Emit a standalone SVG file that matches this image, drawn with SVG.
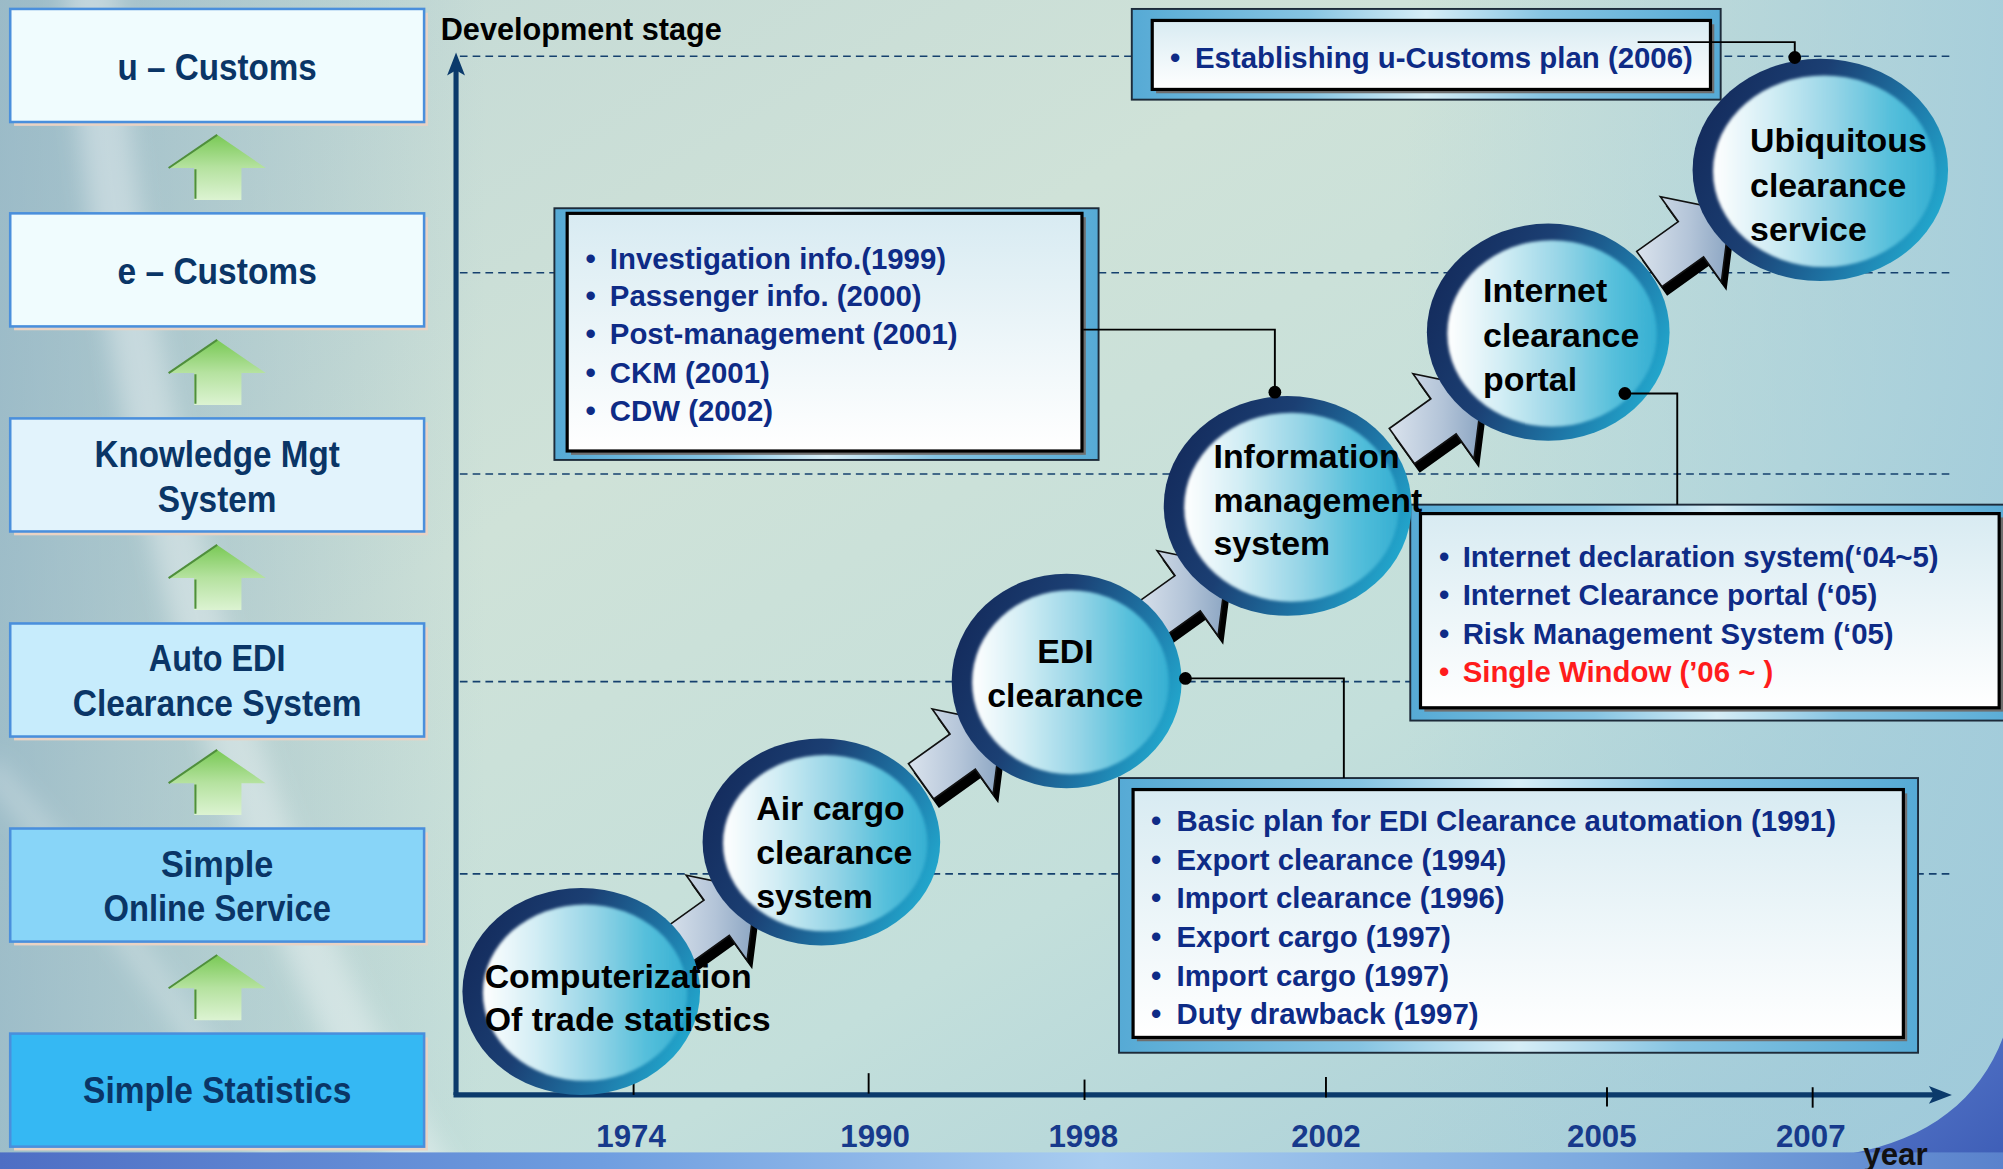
<svg xmlns="http://www.w3.org/2000/svg" width="2003" height="1169" viewBox="0 0 2003 1169">
<defs>
<style>
.f{font-family:"Liberation Sans",Arial,sans-serif;font-weight:bold}
.lt{font-size:28.5px;fill:#0a3566;text-anchor:middle}
.ct{font-size:26.5px;fill:#000}
.it{font-size:23px;fill:#0e2b86}
.bu{font-size:23px;fill:#0e2b86;text-anchor:middle}
.yr{font-size:24.5px;fill:#173a8c;text-anchor:middle}
.lbox{stroke:#4a8fdc;stroke-width:2}
.lsh{fill:#e9d3c4}
.dash{stroke:#15406e;stroke-width:1.3;stroke-dasharray:6 4;fill:none}
.axis{stroke:#0b3a6b;stroke-width:4;fill:none}
.tick{stroke:#000;stroke-width:1.5}
.frame{fill:url(#frame);stroke:#1d2b3a;stroke-width:1.5}
.ishadow{fill:#6e6e6e}
.inner{fill:url(#inner);stroke:#000;stroke-width:2.5}
.ring{fill:url(#ring)}
.core{fill:url(#core);filter:url(#edge)}
.garr{fill:url(#green)}
.gedge{stroke:#4f8f3c;stroke-width:1.6;fill:none}
.conn{stroke:#000;stroke-width:1.5;fill:none}
.dot{fill:#000}
.abody{fill:url(#arrowFill);stroke:#111;stroke-width:1.3;stroke-linejoin:miter}
.ablk{fill:#000}
</style>
<linearGradient id="bg" x1="0" y1="0" x2="1" y2="1">
<stop offset="0" stop-color="#c2d8d5"/>
<stop offset="0.35" stop-color="#cfe2d8"/>
<stop offset="0.65" stop-color="#c3dfdb"/>
<stop offset="1" stop-color="#a0cad8"/>
</linearGradient>
<linearGradient id="leftShade" x1="0" y1="0" x2="1" y2="0">
<stop offset="0" stop-color="#8aaec2" stop-opacity="0.7"/>
<stop offset="1" stop-color="#8aaec2" stop-opacity="0"/>
</linearGradient>
<linearGradient id="rightShade" x1="0" y1="0" x2="1" y2="0">
<stop offset="0" stop-color="#9fcadb" stop-opacity="0"/>
<stop offset="1" stop-color="#9fcadb" stop-opacity="0.8"/>
</linearGradient>
<linearGradient id="strip" x1="0" y1="0" x2="1" y2="0">
<stop offset="0" stop-color="#4e6ec4"/>
<stop offset="0.3" stop-color="#6f9ee0"/>
<stop offset="0.55" stop-color="#a9cdf0"/>
<stop offset="0.8" stop-color="#7ca9df"/>
<stop offset="1" stop-color="#5a82cc"/>
</linearGradient>
<linearGradient id="corner" x1="0" y1="0" x2="1" y2="1">
<stop offset="0" stop-color="#5a7bcc"/>
<stop offset="1" stop-color="#3d5db6"/>
</linearGradient>
<filter id="soft" x="-30%" y="-30%" width="160%" height="160%"><feGaussianBlur stdDeviation="9"/></filter>
<filter id="edge" x="-5%" y="-5%" width="110%" height="110%"><feGaussianBlur stdDeviation="1.3"/></filter>
<linearGradient id="green" x1="0" y1="0" x2="0" y2="1">
<stop offset="0" stop-color="#79c955"/>
<stop offset="0.5" stop-color="#b5e29f"/>
<stop offset="1" stop-color="#dcf3d2"/>
</linearGradient>
<linearGradient id="frame" x1="0" y1="0" x2="1" y2="0">
<stop offset="0" stop-color="#56aad5"/>
<stop offset="0.3" stop-color="#86c4e2"/>
<stop offset="0.5" stop-color="#d6edf6"/>
<stop offset="0.7" stop-color="#86c4e2"/>
<stop offset="1" stop-color="#56aad5"/>
</linearGradient>
<linearGradient id="inner" x1="0" y1="0" x2="0" y2="1">
<stop offset="0" stop-color="#d8ebf2"/>
<stop offset="1" stop-color="#ffffff"/>
</linearGradient>
<linearGradient id="ring" x1="0" y1="0.2" x2="1" y2="0.6">
<stop offset="0" stop-color="#13295a"/>
<stop offset="0.4" stop-color="#1b3f73"/>
<stop offset="0.75" stop-color="#1e78a8"/>
<stop offset="1" stop-color="#22a6cc"/>
</linearGradient>
<linearGradient id="core" x1="0" y1="0" x2="1" y2="0">
<stop offset="0" stop-color="#ffffff"/>
<stop offset="0.25" stop-color="#d4eef5"/>
<stop offset="0.55" stop-color="#94d4e6"/>
<stop offset="0.8" stop-color="#55bfdb"/>
<stop offset="1" stop-color="#35afd2"/>
</linearGradient>
<linearGradient id="arrowFill" gradientUnits="userSpaceOnUse" x1="-40" y1="-30" x2="38" y2="30">
<stop offset="0" stop-color="#e2e9f1"/>
<stop offset="0.5" stop-color="#b3c4d8"/>
<stop offset="1" stop-color="#7594b6"/>
</linearGradient>
<path id="blk" d="M-40,-17 H0 V-41 L38,0 L0,41 V17 H-40 Z"/>
<path id="garrow" d="M0,0 L38,26 L19,26 L19,51 L-18,51 L-18,26 L-38,26 Z"/>
</defs>

<g transform="scale(1.27742 1.2776)">

<g id="background">
<rect x="0" y="0" width="1568" height="915" fill="url(#bg)"/>
<rect x="0" y="0" width="380" height="915" fill="url(#leftShade)"/>
<rect x="1100" y="0" width="468" height="915" fill="url(#rightShade)"/>
<path d="M70,-20 C95,300 170,650 340,930" stroke="#ffffff" stroke-opacity="0.35" stroke-width="40" fill="none" filter="url(#soft)"/>
<path d="M-10,600 C80,700 170,830 230,930" stroke="#ffffff" stroke-opacity="0.25" stroke-width="18" fill="none" filter="url(#soft)"/>
<path d="M1568,812 C1550,860 1510,892 1448,903 L1448,915 L1568,915 Z" fill="url(#corner)"/>
<rect x="0" y="902" width="1568" height="13" fill="url(#strip)"/>
</g>

<g id="grid">
<line class="dash" x1="360" y1="44" x2="1528" y2="44"/>
<line class="dash" x1="360" y1="213.5" x2="1528" y2="213.5"/>
<line class="dash" x1="360" y1="371" x2="1528" y2="371"/>
<line class="dash" x1="360" y1="533.5" x2="1528" y2="533.5"/>
<line class="dash" x1="360" y1="684" x2="1528" y2="684"/>
</g>

<g id="axes">
<line class="axis" x1="357" y1="857" x2="357" y2="52"/>
<polygon points="357,41 364,59 357,55 350,59" fill="#0b3a6b"/>
<line class="axis" x1="355" y1="857" x2="1516" y2="857"/>
<polygon points="1528,857 1510,850 1514,857 1510,864" fill="#0b3a6b"/>
<line class="tick" x1="496" y1="846" x2="496" y2="857"/>
<line class="tick" x1="680" y1="840" x2="680" y2="856"/>
<line class="tick" x1="849" y1="845" x2="849" y2="861"/>
<line class="tick" x1="1038" y1="843" x2="1038" y2="859"/>
<line class="tick" x1="1258" y1="851" x2="1258" y2="866"/>
<line class="tick" x1="1419" y1="851" x2="1419" y2="867"/>
<text class="f" x="345" y="31" font-size="24" fill="#000">Development stage</text>
<text class="f yr" x="494" y="898">1974</text>
<text class="f yr" x="685" y="898">1990</text>
<text class="f yr" x="848" y="898">1998</text>
<text class="f yr" x="1038" y="898">2002</text>
<text class="f yr" x="1254" y="898">2005</text>
<text class="f yr" x="1417.5" y="898">2007</text>
<text class="f" x="1458.6" y="912" font-size="24.5" fill="#111">year</text>
</g>

<g id="box-u-customs">
<rect class="lsh" x="11" y="10" width="324" height="88.5"/>
<rect class="lbox" x="8" y="7" width="324" height="88.5" fill="#f0fcfe"/>
<text class="f lt" x="170" y="62.3" textLength="156" lengthAdjust="spacingAndGlyphs">u – Customs</text>
</g>
<g id="box-e-customs">
<rect class="lsh" x="11" y="170" width="324" height="88.5"/>
<rect class="lbox" x="8" y="167" width="324" height="88.5" fill="#f0fcfe"/>
<text class="f lt" x="170" y="222.3" textLength="156" lengthAdjust="spacingAndGlyphs">e – Customs</text>
</g>
<g id="box-knowledge">
<rect class="lsh" x="11" y="330.5" width="324" height="88.5"/>
<rect class="lbox" x="8" y="327.5" width="324" height="88.5" fill="#e2f3fc"/>
<text class="f lt" x="170" y="365.5" textLength="192" lengthAdjust="spacingAndGlyphs">Knowledge Mgt</text>
<text class="f lt" x="170" y="400.5" textLength="93" lengthAdjust="spacingAndGlyphs">System</text>
</g>
<g id="box-auto-edi">
<rect class="lsh" x="11" y="491" width="324" height="88.5"/>
<rect class="lbox" x="8" y="488" width="324" height="88.5" fill="#c7ecfc"/>
<text class="f lt" x="170" y="525.5" textLength="107" lengthAdjust="spacingAndGlyphs">Auto EDI</text>
<text class="f lt" x="170" y="560.7" textLength="226" lengthAdjust="spacingAndGlyphs">Clearance System</text>
</g>
<g id="box-simple-online">
<rect class="lsh" x="11" y="651.5" width="324" height="88.5"/>
<rect class="lbox" x="8" y="648.5" width="324" height="88.5" fill="#88d5f8"/>
<text class="f lt" x="170" y="686.3" textLength="88" lengthAdjust="spacingAndGlyphs">Simple</text>
<text class="f lt" x="170" y="721" textLength="178" lengthAdjust="spacingAndGlyphs">Online Service</text>
</g>
<g id="box-simple-statistics">
<rect class="lsh" x="11" y="812" width="324" height="88.5"/>
<rect class="lbox" x="8" y="809" width="324" height="88.5" fill="#35b8f3"/>
<text class="f lt" x="170" y="863.3" textLength="210" lengthAdjust="spacingAndGlyphs">Simple Statistics</text>
</g>

<g id="level-arrows">
<g transform="translate(170,105.5)"><use href="#garrow" class="garr"/><path class="gedge" d="M-38,26 L0,0 M-17,27 V50"/></g>
<g transform="translate(170,266)"><use href="#garrow" class="garr"/><path class="gedge" d="M-38,26 L0,0 M-17,27 V50"/></g>
<g transform="translate(170,426.5)"><use href="#garrow" class="garr"/><path class="gedge" d="M-38,26 L0,0 M-17,27 V50"/></g>
<g transform="translate(170,587)"><use href="#garrow" class="garr"/><path class="gedge" d="M-38,26 L0,0 M-17,27 V50"/></g>
<g transform="translate(170,747.5)"><use href="#garrow" class="garr"/><path class="gedge" d="M-38,26 L0,0 M-17,27 V50"/></g>
</g>

<g id="step-arrows">
<use href="#blk" class="ablk" transform="translate(565,725.4) rotate(-35.6)"/>
<use href="#blk" class="abody" transform="translate(561,718.4) rotate(-35.6)"/>
<use href="#blk" class="ablk" transform="translate(757.6,595.3) rotate(-35.6)"/>
<use href="#blk" class="abody" transform="translate(753.6,588.3) rotate(-35.6)"/>
<use href="#blk" class="ablk" transform="translate(933.7,471.4) rotate(-35.6)"/>
<use href="#blk" class="abody" transform="translate(929.7,464.4) rotate(-35.6)"/>
<use href="#blk" class="ablk" transform="translate(1134,332.9) rotate(-35.6)"/>
<use href="#blk" class="abody" transform="translate(1130,325.9) rotate(-35.6)"/>
<use href="#blk" class="ablk" transform="translate(1327.7,194.3) rotate(-35.6)"/>
<use href="#blk" class="abody" transform="translate(1323.7,187.3) rotate(-35.6)"/>
</g>

<g id="note-u-customs">
<rect class="frame" x="886" y="7" width="461" height="71"/>
<rect class="ishadow" x="905" y="19" width="437" height="54"/>
<rect class="inner" x="902" y="16" width="437" height="54"/>
<text class="f bu" x="920" y="53.5">•</text>
<text class="f it" x="935.5" y="53.5">Establishing u-Customs plan (2006)</text>
</g>

<g id="note-info-mgmt">
<rect class="frame" x="434" y="163" width="426" height="197"/>
<rect class="ishadow" x="447" y="170" width="403" height="186"/>
<rect class="inner" x="444" y="167" width="403" height="186"/>
<text class="f bu" x="462.3" y="210.2">•</text>
<text class="f it" x="477.4" y="210.2">Investigation info.(1999)</text>
<text class="f bu" x="462.3" y="239.8">•</text>
<text class="f it" x="477.4" y="239.8">Passenger info. (2000)</text>
<text class="f bu" x="462.3" y="269.6">•</text>
<text class="f it" x="477.4" y="269.6">Post-management (2001)</text>
<text class="f bu" x="462.3" y="299.5">•</text>
<text class="f it" x="477.4" y="299.5">CKM (2001)</text>
<text class="f bu" x="462.3" y="329.5">•</text>
<text class="f it" x="477.4" y="329.5">CDW (2002)</text>
</g>

<g id="note-internet">
<rect class="frame" x="1104" y="395" width="480" height="169"/>
<rect class="ishadow" x="1115" y="405" width="453" height="152"/>
<rect class="inner" x="1112" y="402" width="453" height="152"/>
<text class="f bu" x="1130.5" y="443.8">•</text>
<text class="f it" x="1145" y="443.8">Internet declaration system(‘04~5)</text>
<text class="f bu" x="1130.5" y="473.8">•</text>
<text class="f it" x="1145" y="473.8">Internet Clearance portal (‘05)</text>
<text class="f bu" x="1130.5" y="503.8">•</text>
<text class="f it" x="1145" y="503.8">Risk Management System (‘05)</text>
<text class="f bu" x="1130.5" y="534" style="fill:#ff1c1c">•</text>
<text class="f it" x="1145" y="534" style="fill:#ff1c1c">Single Window (’06 ~ )</text>
</g>

<g id="note-edi">
<rect class="frame" x="876" y="609" width="625.5" height="215"/>
<rect class="ishadow" x="890" y="621" width="603" height="194"/>
<rect class="inner" x="887" y="618" width="603" height="194"/>
<text class="f bu" x="905" y="650.2">•</text>
<text class="f it" x="921" y="650.2">Basic plan for EDI Clearance automation (1991)</text>
<text class="f bu" x="905" y="680.6">•</text>
<text class="f it" x="921" y="680.6">Export clearance (1994)</text>
<text class="f bu" x="905" y="711">•</text>
<text class="f it" x="921" y="711">Import clearance (1996)</text>
<text class="f bu" x="905" y="741.4">•</text>
<text class="f it" x="921" y="741.4">Export cargo (1997)</text>
<text class="f bu" x="905" y="771.6">•</text>
<text class="f it" x="921" y="771.6">Import cargo (1997)</text>
<text class="f bu" x="905" y="801.8">•</text>
<text class="f it" x="921" y="801.8">Duty drawback (1997)</text>
</g>

<g id="stage-computerization">
<ellipse class="ring" cx="455" cy="776" rx="93" ry="81"/>
<ellipse class="core" cx="458" cy="777" rx="80" ry="69"/>
<text class="f ct" x="379.4" y="773">Computerization</text>
<text class="f ct" x="379.4" y="807">Of trade statistics</text>
</g>
<g id="stage-air-cargo">
<ellipse class="ring" cx="643" cy="659" rx="93" ry="81"/>
<ellipse class="core" cx="646" cy="660" rx="80" ry="69"/>
<text class="f ct" x="592" y="642">Air cargo</text>
<text class="f ct" x="592" y="676.5">clearance</text>
<text class="f ct" x="592" y="711">system</text>
</g>
<g id="stage-edi">
<ellipse class="ring" cx="835" cy="533" rx="90" ry="84"/>
<ellipse class="core" cx="838" cy="534" rx="77" ry="72"/>
<text class="f ct" x="834" y="519" text-anchor="middle">EDI</text>
<text class="f ct" x="834" y="553.5" text-anchor="middle">clearance</text>
</g>
<g id="stage-info-mgmt">
<ellipse class="ring" cx="1008" cy="396" rx="97" ry="86"/>
<ellipse class="core" cx="1011" cy="397" rx="84" ry="74"/>
<text class="f ct" x="950" y="366">Information</text>
<text class="f ct" x="950" y="400.7">management</text>
<text class="f ct" x="950" y="434.5">system</text>
</g>
<g id="stage-internet">
<ellipse class="ring" cx="1212" cy="260" rx="95" ry="85"/>
<ellipse class="core" cx="1215" cy="261" rx="82" ry="73"/>
<text class="f ct" x="1161" y="236">Internet</text>
<text class="f ct" x="1161" y="271.4">clearance</text>
<text class="f ct" x="1161" y="305.8">portal</text>
</g>
<g id="stage-ubiquitous">
<ellipse class="ring" cx="1425" cy="133" rx="100" ry="87"/>
<ellipse class="core" cx="1428" cy="134" rx="87" ry="75"/>
<text class="f ct" x="1370" y="118.7">Ubiquitous</text>
<text class="f ct" x="1370" y="154">clearance</text>
<text class="f ct" x="1370" y="188.4">service</text>
</g>

<g id="connectors">
<path class="conn" d="M1282,33 H1405 V45"/>
<circle class="dot" cx="1405" cy="45" r="5"/>
<path class="conn" d="M848,258 H998 V306"/>
<circle class="dot" cx="998" cy="307" r="5"/>
<path class="conn" d="M1272,308 H1313 V395"/>
<circle class="dot" cx="1272" cy="308" r="5"/>
<path class="conn" d="M928,531 H1052 V609"/>
<circle class="dot" cx="928" cy="531" r="5"/>
</g>

</g>
</svg>
